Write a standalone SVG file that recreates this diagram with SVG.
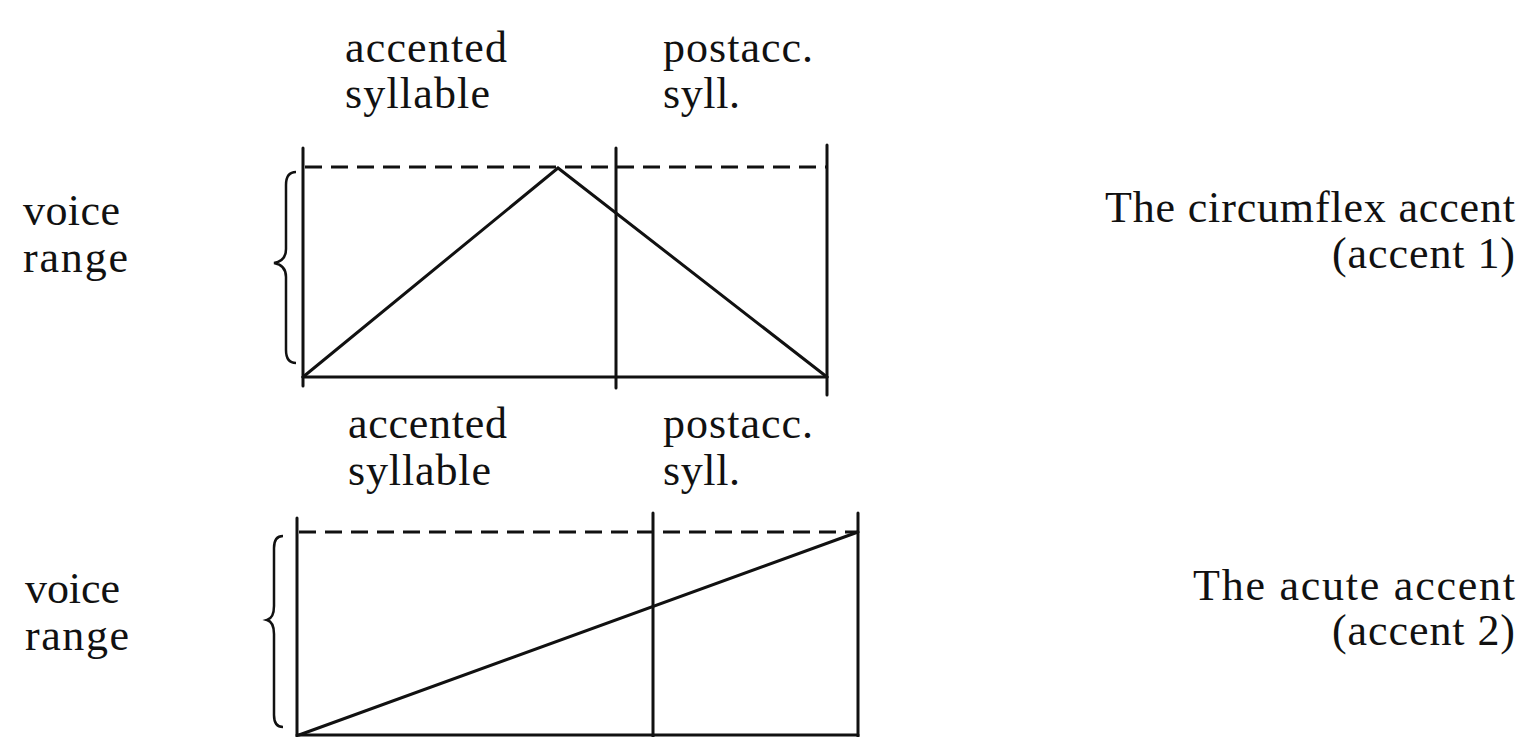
<svg xmlns="http://www.w3.org/2000/svg" width="1521" height="737" viewBox="0 0 1521 737">
<style>
text{font-family:"Liberation Serif","DejaVu Serif",serif;font-size:44px;fill:#111}
.s{stroke:#111;stroke-width:3;fill:none;stroke-linecap:round}
.d{stroke:#111;stroke-width:3;fill:none;stroke-dasharray:17 9}
.b{stroke:#111;stroke-width:2.5;fill:none}
</style>
<rect width="1521" height="737" fill="#fff"/>
<g id="top-diagram">
<text x="345" y="62" textLength="162">accented</text>
<text x="345" y="108" textLength="145">syllable</text>
<text x="663" y="62" textLength="150">postacc.</text>
<text x="663" y="108" textLength="77">syll.</text>
<text x="23" y="225" textLength="97">voice</text>
<text x="23" y="272" textLength="105">range</text>
<text x="1105" y="222" textLength="410">The circumflex accent</text>
<text x="1332" y="268" textLength="183">(accent 1)</text>
<path class="b" d="M296 172 Q286 172 286 185 L286 249 Q286 261 274 263 Q286 265 286 277 L286 350 Q286 363 296 363"/>
<line class="s" x1="303" y1="148" x2="303" y2="386"/>
<line class="s" x1="616" y1="148" x2="616" y2="388"/>
<line class="s" x1="827" y1="145" x2="827" y2="395"/>
<line class="s" x1="303" y1="377" x2="827" y2="377"/>
<line class="d" x1="305" y1="167" x2="827" y2="167"/>
<polyline class="s" points="303,377 558,168 827,377"/>
</g>
<g id="bottom-diagram">
<text x="348" y="438" textLength="159">accented</text>
<text x="348" y="485" textLength="143">syllable</text>
<text x="663" y="438" textLength="150">postacc.</text>
<text x="663" y="485" textLength="77">syll.</text>
<text x="25" y="603" textLength="95">voice</text>
<text x="25" y="650" textLength="104">range</text>
<text x="1193" y="600" textLength="322">The acute accent</text>
<text x="1332" y="645" textLength="183">(accent 2)</text>
<path class="b" d="M283 536 Q274 536 274 548 L274 606 Q274 618 267 620 Q274 622 274 634 L274 715 Q274 727 283 727"/>
<line class="s" x1="297" y1="518" x2="297" y2="737"/>
<line class="s" x1="653" y1="513" x2="653" y2="737"/>
<line class="s" x1="858" y1="513" x2="858" y2="737"/>
<line class="s" x1="297" y1="735" x2="858" y2="735"/>
<line class="d" x1="299" y1="532" x2="858" y2="532"/>
<line class="s" x1="299" y1="735" x2="858" y2="532"/>
</g>
</svg>
